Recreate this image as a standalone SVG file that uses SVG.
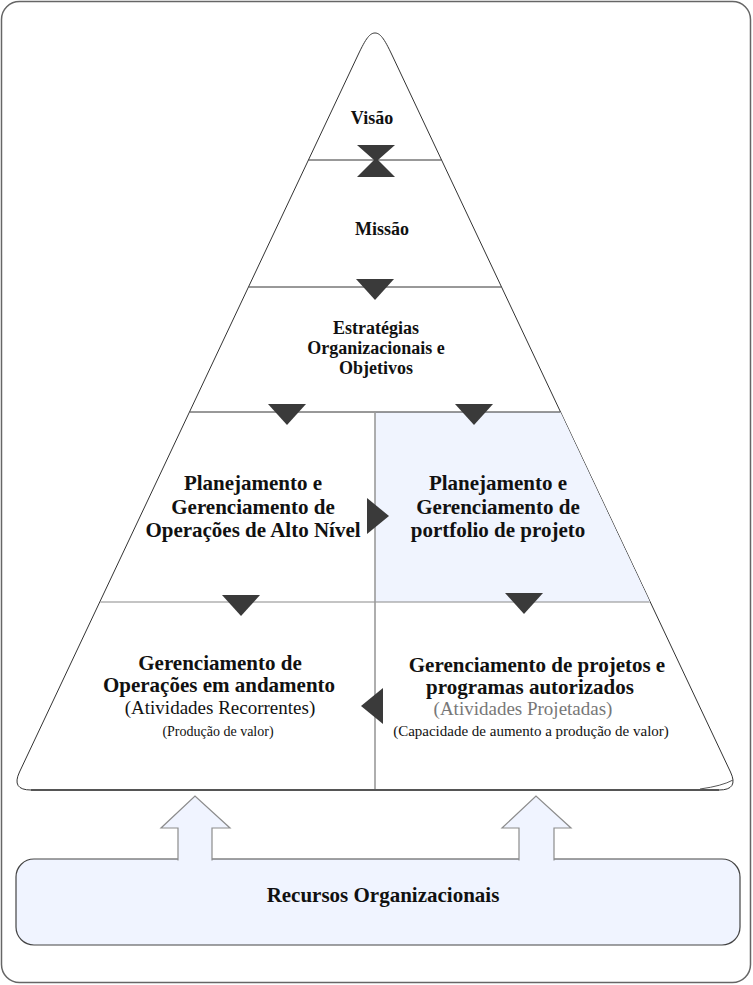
<svg xmlns="http://www.w3.org/2000/svg" width="753" height="985" viewBox="0 0 753 985">
<style>
.t{font-family:"Liberation Serif","Times New Roman",serif;text-anchor:middle;fill:#111}
.b{font-weight:bold;font-size:21px}
.s{font-weight:bold;font-size:18px}
.r{font-size:19px}
.line{stroke:#333;stroke-width:1;fill:none}
.gline{stroke:#8a8a8a;stroke-width:1.2;fill:none}
.tri{fill:#3a3a3a}
.up{fill:#f0f4ff;stroke:#8c8c8c;stroke-width:1.2}
</style>
<rect x="1.5" y="1.5" width="749" height="981" rx="18" fill="#fff" stroke="#666" stroke-width="1.5"/>
<g id="pyramid">
<path d="M358,55 C366,38 370,33 375,33 C380,33 384,38 392,55 L730.5,772 Q739,790 719,790 L31,790 Q11,790 19.5,772 Z" fill="#fff" stroke="#333" stroke-width="1"/>
<polygon points="375,412 560.4,412 650,602 375,602" fill="#f0f4fe"/>
<path d="M31,790 L719,790" stroke="#555" stroke-width="2" fill="none"/>
<path d="M700,789 Q722,786 733,780" stroke="#555" stroke-width="1" fill="none"/>
<line class="line" x1="308.5" y1="160" x2="441.5" y2="160"/>
<line class="line" x1="248.8" y1="287" x2="501.2" y2="287"/>
<line class="line" x1="190" y1="412" x2="560.4" y2="412"/>
<line class="gline" x1="100.3" y1="602" x2="649.7" y2="602"/>
<line x1="375" y1="412" x2="375" y2="789" stroke="#9a9a9a" stroke-width="1.6"/>
</g>
<g id="connectors">
<polygon class="tri" points="357,145 395,145 378,160 395,177 357,177 374,160"/>
<polygon class="tri" points="356,279 394,279 375,300"/>
<polygon class="tri" points="268,404 306,404 287,425"/>
<polygon class="tri" points="455,404 493,404 474,425"/>
<polygon class="tri" points="367,498 367,534 389,516"/>
<polygon class="tri" points="222,595 260,595 241,616"/>
<polygon class="tri" points="505,593 543,593 524,614"/>
<polygon class="tri" points="383,688 383,724 361,706"/>
</g>
<g id="visao"><text class="t s" x="372" y="124">Visão</text></g>
<g id="missao"><text class="t s" x="382" y="235">Missão</text></g>
<g id="estrategias">
<text class="t s" x="376" y="334">Estratégias</text>
<text class="t s" x="376" y="354">Organizacionais e</text>
<text class="t s" x="376" y="374">Objetivos</text>
</g>
<g id="operacoes-alto-nivel">
<text class="t b" x="253" y="490">Planejamento e</text>
<text class="t b" x="253" y="514">Gerenciamento de</text>
<text class="t b" x="253" y="537">Operações de Alto Nível</text>
</g>
<g id="portfolio">
<text class="t b" x="498" y="490">Planejamento e</text>
<text class="t b" x="498" y="514">Gerenciamento de</text>
<text class="t b" x="498" y="537">portfolio de projeto</text>
</g>
<g id="operacoes-andamento">
<text class="t b" x="220" y="670">Gerenciamento de</text>
<text class="t b" x="219" y="692">Operações em andamento</text>
<text class="t r" x="220" y="714">(Atividades Recorrentes)</text>
<text class="t" x="218" y="736" style="font-size:14px">(Produção de valor)</text>
</g>
<g id="projetos-programas">
<text class="t b" x="537" y="672">Gerenciamento de projetos e</text>
<text class="t b" x="530" y="694">programas autorizados</text>
<text class="t r" x="523" y="715" style="fill:#777">(Atividades Projetadas)</text>
<text class="t" x="531" y="736" style="font-size:15px">(Capacidade de aumento a produção de valor)</text>
</g>
<g id="recursos">
<rect x="16" y="859" width="724" height="86" rx="18" fill="#f0f4ff" stroke="#444" stroke-width="1.2"/>
<text class="t b" x="383" y="902">Recursos Organizacionais</text>
</g>
<g id="up-arrows">
<path class="up" d="M178,860.5 L178,828 L161,828 L195,796 L230,828 L212,828 L212,860.5"/>
<path class="up" d="M519,860.5 L519,828 L502,828 L536,796 L571,828 L554,828 L554,860.5"/>
</g>
</svg>
